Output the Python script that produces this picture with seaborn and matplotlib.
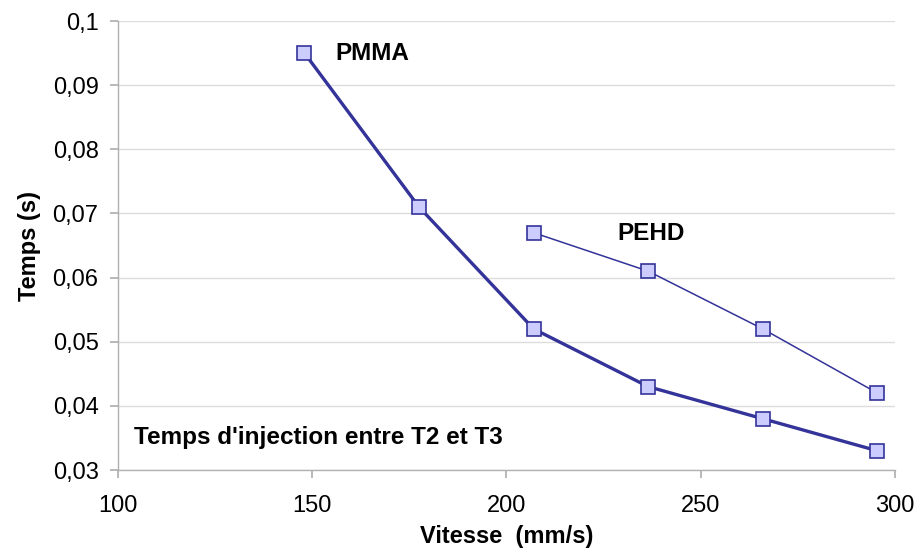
import numpy as np
import matplotlib
matplotlib.use('Agg')
import matplotlib.pyplot as plt
import matplotlib.ticker as mticker
import pandas as pd
import seaborn as sns

# data
pmma_vitesse = [148, 177.5, 207, 236.5, 266, 295.5]
pmma_temps = [0.095, 0.071, 0.052, 0.043, 0.038, 0.033]
pehd_vitesse = [207, 236.5, 266, 295.5]
pehd_temps = [0.067, 0.061, 0.052, 0.042]

sns.set_theme(style='white')
plt.rcParams['font.family'] = ['Liberation Sans', 'DejaVu Sans']
plt.rcParams['text.color'] = 'black'
plt.rcParams['axes.labelcolor'] = 'black'
plt.rcParams['xtick.color'] = 'black'
plt.rcParams['ytick.color'] = 'black'

navy = '#333399'
lavender = '#CCCCFF'

fig = plt.figure(figsize=(9.15, 5.53), dpi=100)
ax = fig.add_axes([0.129, 0.150, 0.849, 0.812])

df1 = pd.DataFrame({'x': pmma_vitesse, 'y': pmma_temps})
df2 = pd.DataFrame({'x': pehd_vitesse, 'y': pehd_temps})
sns.lineplot(data=df1, x='x', y='y', ax=ax, color=navy, lw=2.4,
             marker='s', markersize=10, markerfacecolor=lavender,
             markeredgecolor=navy, markeredgewidth=1.2)
sns.lineplot(data=df2, x='x', y='y', ax=ax, color=navy, lw=1.1,
             marker='s', markersize=10, markerfacecolor=lavender,
             markeredgecolor=navy, markeredgewidth=1.2)

ax.set_xlim(100, 300)
ax.set_ylim(0.03, 0.1)
ax.set_xticks([100, 150, 200, 250, 300])
ax.set_yticks(np.arange(0.03, 0.1001, 0.01))
ax.yaxis.set_major_formatter(mticker.FuncFormatter(
    lambda v, p: ('%g' % round(v, 3)).replace('.', ',')))
ax.grid(axis='y', color='#dddddd', lw=1)
ax.set_axisbelow(True)
for s in ['top', 'right']:
    ax.spines[s].set_visible(False)
for s in ['left', 'bottom']:
    ax.spines[s].set_color('#b0b0b0')
    ax.spines[s].set_linewidth(1)
ax.tick_params(axis='both', length=6, color='#b0b0b0', labelsize=17,
               labelcolor='black', direction='out', bottom=True, left=True)
ax.tick_params(axis='x', pad=12)
ax.tick_params(axis='y', pad=8)

ax.set_xlabel('Vitesse  (mm/s)', fontsize=17, fontweight='bold', labelpad=6)
ax.set_ylabel('Temps (s)', fontsize=17, fontweight='bold', labelpad=8)

ax.text(156, 0.0949, 'PMMA', fontsize=17.5, fontweight='bold', va='center')
ax.text(228.5, 0.0669, 'PEHD', fontsize=17.5, fontweight='bold', va='center')
ax.text(104, 0.0351, "Temps d'injection entre T2 et T3", fontsize=17.5,
        fontweight='bold', va='center')

fig.savefig('out.png', dpi=100)
